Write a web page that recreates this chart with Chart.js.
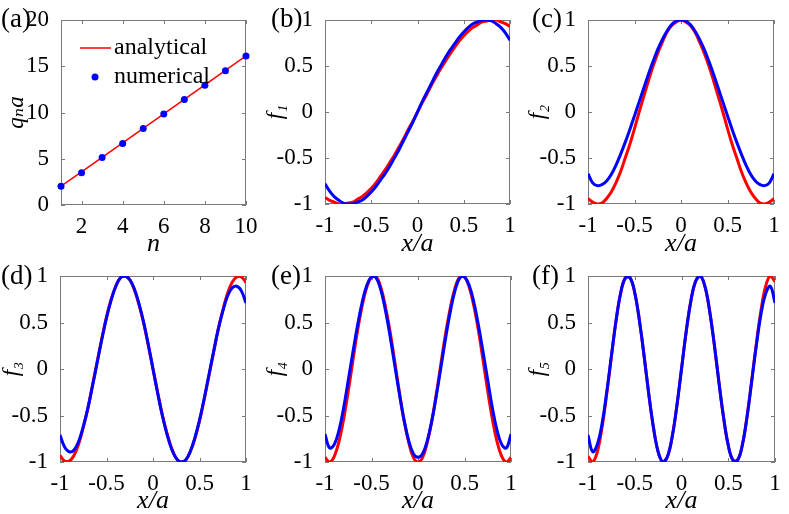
<!DOCTYPE html>
<html>
<head>
<meta charset="utf-8">
<script src="https://cdn.jsdelivr.net/npm/chart.js@4.4.1/dist/chart.umd.min.js"></script>
<style>
  body { margin: 0; background: #fff; }
  #page { position: relative; width: 789px; height: 514px; overflow: hidden; }
  .panel { position: absolute; width: 263px; height: 257px; }
  .tag { position: absolute; font: 27px "Liberation Serif", serif; line-height: 1; color: #000; }
</style>
</head>
<body>
<div id="page">
  <div class="panel" style="left:0;top:0"><canvas id="pa" width="263" height="257"></canvas></div>
  <div class="panel" style="left:263px;top:0"><canvas id="pb" width="263" height="257"></canvas></div>
  <div class="panel" style="left:526px;top:0"><canvas id="pc" width="263" height="257"></canvas></div>
  <div class="panel" style="left:0;top:257px"><canvas id="pd" width="263" height="257"></canvas></div>
  <div class="panel" style="left:263px;top:257px"><canvas id="pe" width="263" height="257"></canvas></div>
  <div class="panel" style="left:526px;top:257px"><canvas id="pf" width="263" height="257"></canvas></div>
  <span class="tag" style="left:1px;top:5px">(a)</span>
  <span class="tag" style="left:271px;top:5px">(b)</span>
  <span class="tag" style="left:532px;top:5px">(c)</span>
  <span class="tag" style="left:1px;top:262px">(d)</span>
  <span class="tag" style="left:271px;top:262px">(e)</span>
  <span class="tag" style="left:532px;top:262px">(f)</span>
</div>
<script>
// (a) wave numbers
const nValues = [1, 2, 3, 4, 5, 6, 7, 8, 9, 10];
const qAnalytical = [2.03, 3.59, 5.16, 6.72, 8.29, 9.86, 11.42, 12.99, 14.55, 16.12];
const qNumerical = [2.04, 3.50, 5.14, 6.66, 8.27, 9.84, 11.41, 12.95, 14.52, 16.10];
const nTicks = [2, 4, 6, 8, 10];
const qTicks = [0, 5, 10, 15, 20];

// (b)-(f) mode profiles, sampled at x/a
const xPos = [-1, -0.95, -0.9, -0.85, -0.8, -0.75, -0.7, -0.65, -0.6, -0.55, -0.5,
  -0.45, -0.4, -0.35, -0.3, -0.25, -0.2, -0.15, -0.1, -0.05, 0,
  0.05, 0.1, 0.15, 0.2, 0.25, 0.3, 0.35, 0.4, 0.45, 0.5,
  0.55, 0.6, 0.65, 0.7, 0.75, 0.8, 0.85, 0.9, 0.95, 1];
const fTicks = [-1, -0.5, 0, 0.5, 1];

const f1Analytical = [-0.93,-0.96,-0.98,-1.00,-1.00,-0.99,-0.98,-0.95,-0.92,-0.88,-0.83,-0.77,-0.70,-0.63,-0.55,-0.47,-0.38,-0.29,-0.19,-0.10,0,
  0.10,0.19,0.29,0.38,0.47,0.55,0.63,0.70,0.77,0.83,0.88,0.92,0.95,0.98,0.99,1.00,1.00,0.98,0.96,0.93];
const f1Numerical = [-0.78,-0.86,-0.92,-0.96,-0.99,-1.00,-1.00,-0.98,-0.96,-0.92,-0.87,-0.81,-0.74,-0.67,-0.59,-0.50,-0.41,-0.31,-0.21,-0.11,0,
  0.11,0.21,0.31,0.41,0.50,0.59,0.67,0.74,0.81,0.87,0.92,0.96,0.98,1.00,1.00,0.99,0.96,0.92,0.86,0.78];

const f2Analytical = [-0.94,-0.98,-1.00,-0.99,-0.94,-0.87,-0.77,-0.65,-0.50,-0.35,-0.18,0.00,0.17,0.34,0.50,0.64,0.76,0.87,0.94,0.98,1.00,
  0.98,0.94,0.87,0.76,0.64,0.50,0.34,0.17,0.00,-0.18,-0.35,-0.50,-0.65,-0.77,-0.87,-0.94,-0.99,-1.00,-0.98,-0.94];
const f2Numerical = [-0.67,-0.77,-0.80,-0.79,-0.75,-0.68,-0.58,-0.46,-0.33,-0.19,-0.04,0.11,0.26,0.41,0.55,0.68,0.79,0.88,0.95,0.99,1.00,
  0.99,0.95,0.88,0.79,0.68,0.55,0.41,0.26,0.11,-0.04,-0.19,-0.33,-0.46,-0.58,-0.68,-0.75,-0.79,-0.80,-0.77,-0.67];

const f3Analytical = [-0.93,-0.99,-0.99,-0.93,-0.81,-0.63,-0.42,-0.17,0.08,0.33,0.56,0.75,0.89,0.98,1.00,0.96,0.85,0.69,0.49,0.25,0,
  -0.25,-0.49,-0.69,-0.85,-0.96,-1.00,-0.98,-0.89,-0.75,-0.56,-0.33,-0.08,0.17,0.42,0.63,0.81,0.93,0.99,0.99,0.93];
const f3Numerical = [-0.71,-0.84,-0.89,-0.87,-0.78,-0.62,-0.42,-0.18,0.07,0.32,0.55,0.74,0.89,0.98,1.00,0.96,0.86,0.70,0.50,0.26,0,
  -0.26,-0.50,-0.70,-0.86,-0.96,-1.00,-0.98,-0.89,-0.74,-0.55,-0.32,-0.07,0.18,0.42,0.62,0.78,0.87,0.89,0.84,0.71];

const f4Analytical = [-0.95,-1.00,-0.94,-0.78,-0.54,-0.24,0.09,0.41,0.68,0.88,0.99,0.99,0.88,0.67,0.40,0.08,-0.25,-0.55,-0.79,-0.95,-1.00,
  -0.95,-0.79,-0.55,-0.25,0.08,0.40,0.67,0.88,0.99,0.99,0.88,0.68,0.41,0.09,-0.24,-0.54,-0.78,-0.94,-1.00,-0.95];
const f4Numerical = [-0.70,-0.85,-0.81,-0.66,-0.42,-0.12,0.18,0.47,0.72,0.90,0.99,0.98,0.85,0.63,0.35,0.04,-0.27,-0.55,-0.77,-0.91,-0.95,
  -0.91,-0.77,-0.55,-0.27,0.04,0.35,0.63,0.85,0.98,0.99,0.90,0.72,0.47,0.18,-0.12,-0.42,-0.66,-0.81,-0.85,-0.70];

const f5Analytical = [-0.94,-1.00,-0.89,-0.63,-0.27,0.13,0.52,0.82,0.98,0.98,0.82,0.52,0.14,-0.27,-0.63,-0.89,-1.00,-0.94,-0.73,-0.40,0,
  0.40,0.73,0.94,1.00,0.89,0.63,0.27,-0.14,-0.52,-0.82,-0.98,-0.98,-0.82,-0.52,-0.13,0.27,0.63,0.89,1.00,0.94];
const f5Numerical = [-0.71,-0.89,-0.81,-0.59,-0.25,0.14,0.52,0.82,0.98,0.98,0.82,0.52,0.14,-0.27,-0.63,-0.89,-1.00,-0.94,-0.73,-0.40,0,
  0.40,0.73,0.94,1.00,0.89,0.63,0.27,-0.14,-0.52,-0.82,-0.98,-0.98,-0.82,-0.52,-0.14,0.25,0.59,0.81,0.89,0.71];

const RED = '#ff0000';
const BLUE = '#0000ff';
const FRAME = '#7a7a7a';
const SERIF = '"Liberation Serif", "DejaVu Serif", serif';
const tickFont = { family: SERIF, size: 23, lineHeight: 1.2 };
const xTitleFont = { family: SERIF, size: 26, style: 'italic', lineHeight: 1 };
const yTitleFont = { family: SERIF, size: 23, style: 'italic', lineHeight: 1 };

// box round the plot with inward ticks on all four sides (matlab style)
const boxAxes = {
  id: 'boxAxes',
  beforeDatasetsDraw(chart) {
    const { ctx, chartArea: a, scales: { x, y } } = chart;
    const tl = 4;
    ctx.save();
    ctx.strokeStyle = FRAME;
    ctx.lineWidth = 1;
    ctx.strokeRect(a.left + 0.5, a.top + 0.5, a.width - 1, a.height - 1);
    ctx.beginPath();
    x.ticks.forEach(t => {
      const px = Math.round(x.getPixelForValue(t.value)) + 0.5;
      ctx.moveTo(px, a.bottom); ctx.lineTo(px, a.bottom - tl);
      ctx.moveTo(px, a.top); ctx.lineTo(px, a.top + tl);
    });
    y.ticks.forEach(t => {
      const py = Math.round(y.getPixelForValue(t.value)) + 0.5;
      ctx.moveTo(a.left, py); ctx.lineTo(a.left + tl, py);
      ctx.moveTo(a.right, py); ctx.lineTo(a.right - tl, py);
    });
    ctx.stroke();
    ctx.restore();
  }
};

// legend inside panel (a), no box
const innerLegend = {
  id: 'innerLegend',
  afterDraw(chart) {
    const { ctx, chartArea: a } = chart;
    const line = chart.data.datasets.find(d => d.label === 'analytical');
    const dots = chart.data.datasets.find(d => d.label === 'numerical');
    ctx.save();
    ctx.font = '24px ' + SERIF;
    ctx.textBaseline = 'middle';
    ctx.fillStyle = '#000';
    let y = a.top + 28;
    ctx.strokeStyle = line.borderColor;
    ctx.lineWidth = line.borderWidth;
    ctx.beginPath(); ctx.moveTo(a.left + 19, y); ctx.lineTo(a.left + 50, y); ctx.stroke();
    ctx.fillText(line.label, a.left + 53, y);
    y = a.top + 57;
    ctx.fillStyle = dots.pointBackgroundColor;
    ctx.beginPath(); ctx.arc(a.left + 34, y, dots.pointRadius, 0, Math.PI * 2); ctx.fill();
    ctx.fillStyle = '#000';
    ctx.fillText(dots.label, a.left + 53, y);
    ctx.restore();
  }
};

function axis(dir, min, max, ticks, title, g) {
  return {
    type: 'linear',
    min: min,
    max: max,
    grid: { display: false },
    border: { display: false },
    afterBuildTicks: s => { s.ticks = ticks.map(v => ({ value: v })); },
    afterFit: s => {
      if (dir === 'x') { s.height = g.xh; s.paddingLeft = 0; s.paddingRight = 0; }
      else { s.width = g.yw; s.paddingTop = 0; s.paddingBottom = 0; }
    },
    ticks: {
      font: tickFont,
      color: '#000',
      padding: dir === 'x' ? 0 : 4,
      maxRotation: 0,
      autoSkip: false,
      callback: v => String(v)
    },
    title: {
      display: true,
      text: title,
      font: dir === 'x' ? xTitleFont : yTitleFont,
      color: '#000',
      padding: dir === 'x' ? { top: 0, bottom: 0 } : { top: g.ytp, bottom: 0 }
    }
  };
}

function panel(id, g, datasets, xs, ys, extra) {
  return new Chart(document.getElementById(id), {
    type: 'line',
    data: { datasets: datasets },
    options: {
      responsive: false,
      animation: false,
      events: [],
      layout: { padding: { left: 0, top: g.top, right: g.right, bottom: 0 } },
      plugins: { legend: { display: false }, tooltip: { enabled: false } },
      scales: { x: xs, y: ys }
    },
    plugins: [boxAxes].concat(extra || [])
  });
}

function pts(xv, yv) { return xv.map((x, i) => ({ x: x, y: yv[i] })); }

function modeSets(red, blue) {
  return [
    { label: 'analytical', data: pts(xPos, red), borderColor: RED, borderWidth: 3, pointRadius: 0, tension: 0.4, order: 1 },
    { label: 'numerical', data: pts(xPos, blue), borderColor: BLUE, borderWidth: 3, pointRadius: 0, tension: 0.4, order: 0 }
  ];
}

const geom = {
  a: { yw: 61, top: 20, right: 17, xh: 52, ytp: 5 },
  b: { yw: 62, top: 20, right: 16, xh: 53, ytp: 1 },
  c: { yw: 62, top: 20, right: 15, xh: 53, ytp: 0 },
  d: { yw: 60, top: 19, right: 17, xh: 52, ytp: 0 },
  e: { yw: 62, top: 19, right: 15, xh: 52, ytp: 1 },
  f: { yw: 62, top: 19, right: 14, xh: 52, ytp: 0 }
};

panel('pa', geom.a, [
  { label: 'analytical', data: pts(nValues, qAnalytical), borderColor: RED, borderWidth: 1.5, pointRadius: 0, tension: 0, order: 1 },
  { label: 'numerical', data: pts(nValues, qNumerical), showLine: false, pointRadius: 3.5, pointBackgroundColor: BLUE,
    pointBorderWidth: 0, borderColor: BLUE, clip: false, order: 0 }
], axis('x', 1, 10, nTicks, 'n', geom.a), axis('y', 0, 20, qTicks, 'qₙa', geom.a), [innerLegend]);

const modes = [
  ['pb', geom.b, f1Analytical, f1Numerical, 'f₁'],
  ['pc', geom.c, f2Analytical, f2Numerical, 'f₂'],
  ['pd', geom.d, f3Analytical, f3Numerical, 'f₃'],
  ['pe', geom.e, f4Analytical, f4Numerical, 'f₄'],
  ['pf', geom.f, f5Analytical, f5Numerical, 'f₅']
];
modes.forEach(([id, g, red, blue, name]) => {
  panel(id, g, modeSets(red, blue), axis('x', -1, 1, fTicks, 'x/a', g), axis('y', -1, 1, fTicks, name, g));
});
</script>
</body>
</html>
